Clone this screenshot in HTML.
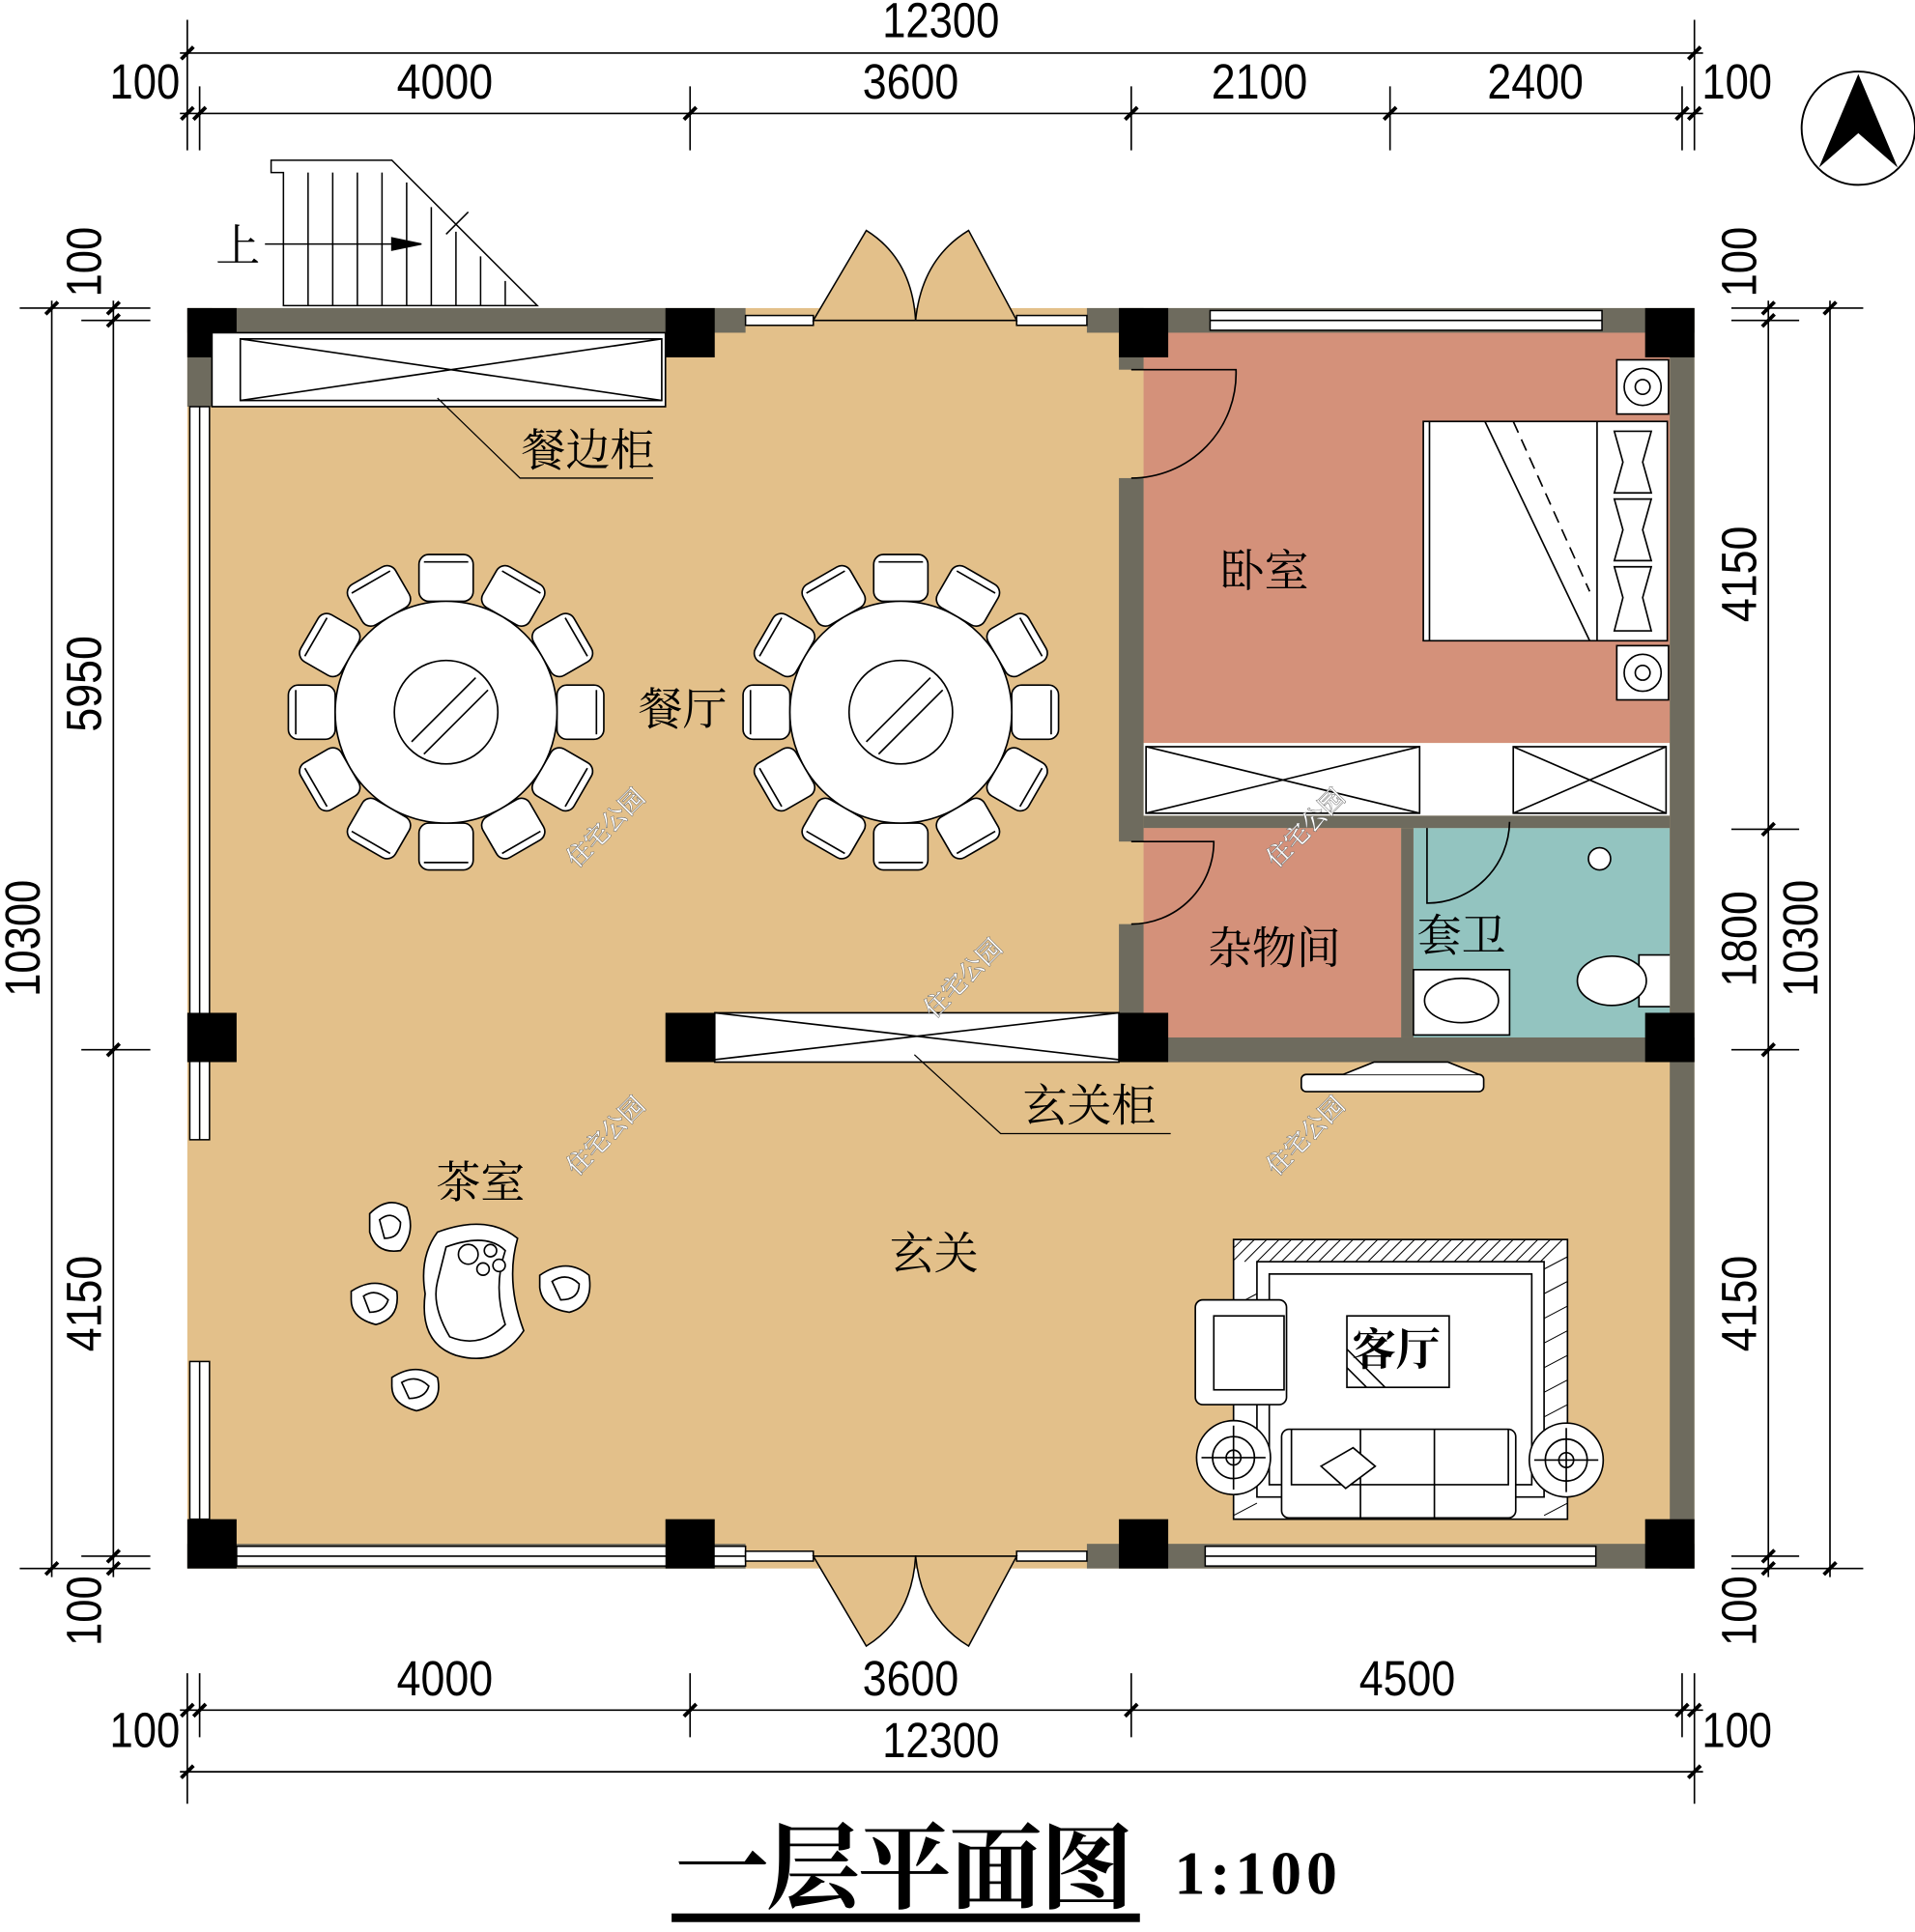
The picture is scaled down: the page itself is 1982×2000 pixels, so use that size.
<!DOCTYPE html>
<html><head><meta charset="utf-8"><style>
html,body{margin:0;padding:0;background:#fff;}
svg{display:block}
text{font-family:"Liberation Sans","Noto Serif CJK SC","Noto Sans CJK SC",sans-serif;}
.d{font-size:40px;fill:#000;font-family:"Liberation Sans",sans-serif;}
.c{font-family:"Noto Serif CJK SC","Noto Sans CJK SC",serif;font-size:36px;fill:#000;}
.w{font-family:"Noto Sans CJK SC",sans-serif;font-size:20px;fill:#fff;stroke:#666;stroke-width:0.8;paint-order:stroke}
</style></head><body>
<svg width="1982" height="2000" viewBox="0 0 1554 1568" xmlns="http://www.w3.org/2000/svg">
<rect width="1554" height="1568" fill="#fff"/>
<rect x="152" y="250" width="1223" height="1023" fill="#e3c08a"/>
<rect x="928" y="270" width="427" height="333" fill="#d4917a"/>
<rect x="928" y="672" width="209" height="170" fill="#d4917a"/>
<rect x="1147" y="672" width="208" height="170" fill="#93c4c0"/>
<rect x="928" y="603" width="427" height="59" fill="#fff"/>
<g fill="#6e6b5e">
<rect x="152" y="250" width="453" height="20"/>
<rect x="882" y="250" width="493" height="20"/>
<rect x="1355" y="250" width="20" height="1023"/>
<rect x="152" y="1253" width="453" height="20"/>
<rect x="882" y="1253" width="493" height="20"/>
<rect x="152" y="250" width="20" height="80"/>
<rect x="908" y="250" width="20" height="50"/>
<rect x="908" y="388" width="20" height="295"/>
<rect x="908" y="750" width="20" height="112"/>
<rect x="928" y="842" width="447" height="20"/>
<rect x="928" y="662" width="427" height="10"/>
<rect x="1137" y="672" width="10" height="170"/>
</g>
<g fill="#fff" stroke="#000" stroke-width="1.2">
<rect x="982" y="252" width="318" height="16"/>
<line x1="982" y1="260" x2="1300" y2="260"/>
<rect x="192" y="1255" width="413" height="16"/>
<line x1="192" y1="1263" x2="605" y2="1263"/>
<rect x="978" y="1255" width="317" height="16"/>
<line x1="978" y1="1263" x2="1295" y2="1263"/>
<rect x="154" y="330" width="16" height="595"/>
<line x1="162" y1="330" x2="162" y2="925"/>
<rect x="154" y="1105" width="16" height="128"/>
<line x1="162" y1="1105" x2="162" y2="1233"/>
<rect x="605" y="256" width="55" height="8"/>
<rect x="825" y="256" width="57" height="8"/>
<rect x="605" y="1259" width="55" height="8"/>
<rect x="825" y="1259" width="57" height="8"/>
</g>
<g fill="#e3c08a" stroke="#000" stroke-width="1.2">
<path d="M660 260 L703 187 Q740 210 743 260 Z"/>
<path d="M825 260 L786 187 Q748 210 743 260 Z"/>
<path d="M660 1263 L703 1336 Q740 1313 743 1263 Z"/>
<path d="M825 1263 L786 1336 Q748 1313 743 1263 Z"/>
</g>
<g fill="none" stroke="#000" stroke-width="1.3">
<path d="M918 300 L1003 300 A85 85 0 0 1 918 388"/>
<path d="M918 683 L985 683 A67 67 0 0 1 918 750"/>
<path d="M1158 672 L1158 733 A67 67 0 0 0 1225 667"/>
</g>
<g fill="#000">
<rect x="152" y="250" width="40" height="40"/><rect x="540" y="250" width="40" height="40"/>
<rect x="908" y="250" width="40" height="40"/><rect x="1335" y="250" width="40" height="40"/>
<rect x="152" y="822" width="40" height="40"/><rect x="540" y="822" width="40" height="40"/>
<rect x="908" y="822" width="40" height="40"/><rect x="1335" y="822" width="40" height="40"/>
<rect x="152" y="1233" width="40" height="40"/><rect x="540" y="1233" width="40" height="40"/>
<rect x="908" y="1233" width="40" height="40"/><rect x="1335" y="1233" width="40" height="40"/>
</g>
<g fill="#fff" stroke="#000" stroke-width="1.3">
<rect x="172" y="270" width="368" height="60"/>
<rect x="195" y="275" width="342" height="50"/>
<path d="M195 275 L537 325 M195 325 L537 275" fill="none"/>
<rect x="580" y="822" width="328" height="40"/>
<path d="M580 822 L908 860 M580 860 L908 822" fill="none"/>
<rect x="930" y="606" width="222" height="54"/>
<path d="M930 606 L1152 660 M930 660 L1152 606" fill="none"/>
<rect x="1228" y="606" width="124" height="54"/>
<path d="M1228 606 L1352 660 M1228 660 L1352 606" fill="none"/>
</g>
<g fill="none" stroke="#000" stroke-width="1">
<path d="M355 323 L422 388 L530 388"/>
<path d="M742 856 L812 920 L950 920"/>
</g>
<g fill="#fff" stroke="#000" stroke-width="1.2">
<path d="M220 130 L318 130 L436 248 L230 248 L230 140 L220 140 Z"/>
<path d="M250 140V248 M270 140V248 M290 140V248 M310 140V248 M330 148V248 M350 168V248 M370 188V248 M390 208V248 M410 228V248" fill="none"/>
<path d="M215 198 L340 198" fill="none"/>
<path d="M318 193 L342 198 L318 203 Z" fill="#000"/>
<path d="M362 190 L380 172" fill="none"/>
</g>
<text class="c" x="175" y="212" font-size="38">上</text>
<defs>
<g id="tbl">
<g fill="#fff" stroke="#000" stroke-width="1.3">
<g id="ch"><rect x="-22" y="-128" width="44" height="38" rx="8"/><path d="M-18 -122 H18" fill="none"/></g>
<use href="#ch" transform="rotate(30)"/><use href="#ch" transform="rotate(60)"/><use href="#ch" transform="rotate(90)"/>
<use href="#ch" transform="rotate(120)"/><use href="#ch" transform="rotate(150)"/><use href="#ch" transform="rotate(180)"/>
<use href="#ch" transform="rotate(210)"/><use href="#ch" transform="rotate(240)"/><use href="#ch" transform="rotate(270)"/>
<use href="#ch" transform="rotate(300)"/><use href="#ch" transform="rotate(330)"/>
<circle r="90"/>
<circle r="42"/>
<path d="M-28 24 L24 -28 M-18 34 L34 -18" fill="none"/>
</g></g>
</defs>
<use href="#tbl" x="362" y="578"/>
<use href="#tbl" x="731" y="578"/>
<g fill="#fff" stroke="#000" stroke-width="1.3">
<rect x="1155" y="342" width="198" height="178"/>
<line x1="1160" y1="342" x2="1160" y2="520"/>
<line x1="1296" y1="342" x2="1296" y2="520"/>
<path d="M1228 342 L1290 480" fill="none" stroke-dasharray="10 6"/>
<path d="M1205 342 L1290 520" fill="none"/>
<path d="M1310 350 L1340 350 L1333 375 L1340 400 L1310 400 L1317 375 Z"/>
<path d="M1310 405 L1340 405 L1333 430 L1340 455 L1310 455 L1317 430 Z"/>
<path d="M1310 460 L1340 460 L1333 485 L1340 512 L1310 512 L1317 485 Z"/>
<rect x="1312" y="292" width="42" height="44"/><circle cx="1333" cy="314" r="15"/><circle cx="1333" cy="314" r="6"/>
<rect x="1312" y="524" width="42" height="44"/><circle cx="1333" cy="546" r="15"/><circle cx="1333" cy="546" r="6"/>
</g>
<g fill="#fff" stroke="#000" stroke-width="1.3">
<rect x="1147" y="787" width="78" height="53"/>
<ellipse cx="1186" cy="812" rx="30" ry="18"/>
<circle cx="1298" cy="697" r="9"/>
<path d="M1355 775 L1330 775 L1330 817 L1355 817"/>
<ellipse cx="1308" cy="796" rx="28" ry="20"/>
</g>
<g fill="#fff" stroke="#000" stroke-width="1.3">
<path d="M355 1000 Q395 985 420 1005 Q410 1040 425 1080 Q405 1110 370 1100 Q340 1090 345 1050 Q340 1020 355 1000 Z"/>
<path d="M362 1012 Q395 1000 410 1015 Q400 1045 410 1075 Q390 1095 365 1085 Q350 1060 355 1040 Z" fill="none"/>
<circle cx="380" cy="1018" r="8"/><circle cx="398" cy="1015" r="5"/><circle cx="405" cy="1027" r="5"/><circle cx="392" cy="1030" r="5"/>
<path d="M300 985 Q315 970 330 980 Q338 1000 325 1015 Q305 1018 300 1000 Z"/>
<path d="M308 990 Q318 982 325 992 Q325 1005 312 1005 Z" fill="none"/>
<path d="M438 1035 Q460 1020 478 1035 Q482 1060 462 1065 Q440 1062 438 1045 Z"/>
<path d="M448 1040 Q460 1032 470 1042 Q470 1055 455 1055 Z" fill="none"/>
<path d="M285 1048 Q305 1035 322 1048 Q325 1070 305 1075 Q285 1070 285 1055 Z"/>
<path d="M295 1052 Q305 1045 315 1055 Q312 1065 300 1065 Z" fill="none"/>
<path d="M318 1118 Q338 1105 355 1118 Q360 1140 338 1145 Q318 1140 318 1125 Z"/>
<path d="M326 1122 Q338 1115 348 1125 Q345 1135 332 1135 Z" fill="none"/>
</g>
<g stroke="#000" stroke-width="1.3">
<rect x="1001" y="1006" width="271" height="227" fill="#fff"/>
<rect x="1020" y="1024" width="233" height="191" fill="#fff"/>
<rect x="1030" y="1034" width="213" height="171" fill="#fff"/>
<g fill="none" stroke-width="0.8">
<path d="M1008 1006 l-7 7 M1018 1006 l-17 17 M1028 1006 l-18 18 M1038 1006 l-18 18 M1048 1006 l-18 18 M1058 1006 l-18 18 M1068 1006 l-18 18 M1078 1006 l-18 18 M1088 1006 l-18 18 M1098 1006 l-18 18 M1108 1006 l-18 18 M1118 1006 l-18 18 M1128 1006 l-18 18 M1138 1006 l-18 18 M1148 1006 l-18 18 M1158 1006 l-18 18 M1168 1006 l-18 18 M1178 1006 l-18 18 M1188 1006 l-18 18 M1198 1006 l-18 18 M1208 1006 l-18 18 M1218 1006 l-18 18 M1228 1006 l-18 18 M1238 1006 l-18 18 M1248 1006 l-18 18 M1258 1006 l-18 18 M1268 1006 l-18 18"/>
<path d="M1253 1030 l19 -10 M1253 1050 l19 -10 M1253 1070 l19 -10 M1253 1090 l19 -10 M1253 1110 l19 -10 M1253 1130 l19 -10 M1253 1150 l19 -10 M1253 1170 l19 -10 M1253 1190 l19 -10 M1253 1210 l19 -10 M1253 1230 l19 -10"/>
<path d="M1001 1060 l19 -10 M1001 1230 l19 -10 M1001 1210 l19 -10"/>
</g>
<rect x="970" y="1055" width="74" height="85" rx="6" fill="#fff"/>
<rect x="985" y="1068" width="57" height="60" fill="#fff"/>
<rect x="1040" y="1160" width="190" height="72" rx="6" fill="#fff"/>
<path d="M1048 1160 V1205 H1224 V1160 M1104 1160 V1232 M1164 1160 V1232" fill="none"/>
<path d="M1072 1190 L1098 1175 L1116 1190 L1092 1208 Z" fill="#fff"/>
<circle cx="1001" cy="1183" r="30" fill="#fff"/><circle cx="1001" cy="1183" r="17" fill="none"/><circle cx="1001" cy="1183" r="6" fill="none"/>
<path d="M975 1183 H1027 M1001 1157 V1209" fill="none"/>
<circle cx="1271" cy="1185" r="30" fill="#fff"/><circle cx="1271" cy="1185" r="17" fill="none"/><circle cx="1271" cy="1185" r="6" fill="none"/>
<path d="M1245 1185 H1297 M1271 1159 V1211" fill="none"/>
<rect x="1093" y="1068" width="83" height="58" fill="#fff"/>
<path d="M1093 1110 l16 16 M1093 1095 l31 31" fill="none"/>
<rect x="1056" y="872" width="148" height="14" rx="4" fill="#fff"/>
<path d="M1090 872 L1115 862 L1175 862 L1200 872" fill="#fff"/>
</g>
<text class="c" x="423" y="378">餐边柜</text>
<text class="c" x="518" y="588">餐厅</text>
<text class="c" x="990" y="476" font-size="40">卧室</text>
<text class="c" x="980" y="782" font-size="40">杂物间</text>
<text class="c" x="1150" y="772" font-size="40">套卫</text>
<text class="c" x="830" y="910">玄关柜</text>
<text class="c" x="354" y="972">茶室</text>
<text class="c" x="722" y="1030">玄关</text>
<text class="c" x="1097" y="1108" font-size="44" font-weight="bold">客厅</text>
<g class="w">
<text transform="translate(468,705) rotate(-45)">住宅公园</text>
<text transform="translate(1036,705) rotate(-45)">住宅公园</text>
<text transform="translate(758,827) rotate(-45)">住宅公园</text>
<text transform="translate(468,955) rotate(-45)">住宅公园</text>
<text transform="translate(1036,955) rotate(-45)">住宅公园</text>
</g>
<g stroke="#000" stroke-width="1.3" fill="none">
<path d="M146 43 H1382 M146 92 H1382 M146 1388 H1382 M146 1438 H1382"/>
<path d="M152 16 V122 M1375 16 V122 M162 70 V122 M560 70 V122 M918 70 V122 M1128 70 V122 M1365 70 V122"/>
<path d="M152 1358 V1464 M1375 1358 V1464 M162 1358 V1410 M560 1358 V1410 M918 1358 V1410 M1365 1358 V1410"/>
<path d="M42 244 V1280 M92 244 V1280 M1435 244 V1280 M1485 244 V1280"/>
<path d="M16 250 H122 M16 1273 H122 M66 260 H122 M66 852 H122 M66 1263 H122"/>
<path d="M1405 250 H1512 M1405 1273 H1512 M1405 260 H1460 M1405 673 H1460 M1405 852 H1460 M1405 1263 H1460"/>
<g stroke-width="3">
<path d="M147 48 l10 -10 M1370 48 l10 -10 M147 97 l10 -10 M157 97 l10 -10 M555 97 l10 -10 M913 97 l10 -10 M1123 97 l10 -10 M1360 97 l10 -10 M1370 97 l10 -10"/>
<path d="M147 1393 l10 -10 M157 1393 l10 -10 M555 1393 l10 -10 M913 1393 l10 -10 M1360 1393 l10 -10 M1370 1393 l10 -10 M147 1443 l10 -10 M1370 1443 l10 -10"/>
<path d="M37 255 l10 -10 M37 1278 l10 -10 M87 255 l10 -10 M87 265 l10 -10 M87 857 l10 -10 M87 1268 l10 -10 M87 1278 l10 -10"/>
<path d="M1430 255 l10 -10 M1430 265 l10 -10 M1430 678 l10 -10 M1430 857 l10 -10 M1430 1268 l10 -10 M1430 1278 l10 -10 M1480 255 l10 -10 M1480 1278 l10 -10"/>
</g>
</g>
<g class="d" lengthAdjust="spacingAndGlyphs">
<text x="716" y="30" textLength="95" lengthAdjust="spacingAndGlyphs">12300</text>
<text x="89" y="80" textLength="57" lengthAdjust="spacingAndGlyphs">100</text>
<text x="322" y="80" textLength="78" lengthAdjust="spacingAndGlyphs">4000</text>
<text x="700" y="80" textLength="78" lengthAdjust="spacingAndGlyphs">3600</text>
<text x="983" y="80" textLength="78" lengthAdjust="spacingAndGlyphs">2100</text>
<text x="1207" y="80" textLength="78" lengthAdjust="spacingAndGlyphs">2400</text>
<text x="1381" y="80" textLength="57" lengthAdjust="spacingAndGlyphs">100</text>
<text x="322" y="1376" textLength="78" lengthAdjust="spacingAndGlyphs">4000</text>
<text x="700" y="1376" textLength="78" lengthAdjust="spacingAndGlyphs">3600</text>
<text x="1103" y="1376" textLength="78" lengthAdjust="spacingAndGlyphs">4500</text>
<text x="716" y="1426" textLength="95" lengthAdjust="spacingAndGlyphs">12300</text>
<text x="89" y="1418" textLength="57" lengthAdjust="spacingAndGlyphs">100</text>
<text x="1381" y="1418" textLength="57" lengthAdjust="spacingAndGlyphs">100</text>
<text transform="translate(82,213) rotate(-90)" x="-28" textLength="57" lengthAdjust="spacingAndGlyphs">100</text>
<text transform="translate(82,555) rotate(-90)" x="-39" textLength="78" lengthAdjust="spacingAndGlyphs">5950</text>
<text transform="translate(82,1058) rotate(-90)" x="-39" textLength="78" lengthAdjust="spacingAndGlyphs">4150</text>
<text transform="translate(82,1308) rotate(-90)" x="-28" textLength="57" lengthAdjust="spacingAndGlyphs">100</text>
<text transform="translate(32,762) rotate(-90)" x="-47" textLength="95" lengthAdjust="spacingAndGlyphs">10300</text>
<text transform="translate(1425,213) rotate(-90)" x="-28" textLength="57" lengthAdjust="spacingAndGlyphs">100</text>
<text transform="translate(1425,466) rotate(-90)" x="-39" textLength="78" lengthAdjust="spacingAndGlyphs">4150</text>
<text transform="translate(1425,762) rotate(-90)" x="-39" textLength="78" lengthAdjust="spacingAndGlyphs">1800</text>
<text transform="translate(1425,1058) rotate(-90)" x="-39" textLength="78" lengthAdjust="spacingAndGlyphs">4150</text>
<text transform="translate(1425,1308) rotate(-90)" x="-28" textLength="57" lengthAdjust="spacingAndGlyphs">100</text>
<text transform="translate(1475,762) rotate(-90)" x="-47" textLength="95" lengthAdjust="spacingAndGlyphs">10300</text>
</g>
<circle cx="1508" cy="104" r="46" fill="#fff" stroke="#000" stroke-width="1.5"/>
<path d="M1508 60 L1476 136 L1508 108 L1540 136 Z" fill="#000"/>
<text x="548" y="1543" font-size="76" font-weight="bold" textLength="372" style="font-family:'Noto Serif CJK SC',serif">一层平面图</text>
<rect x="545" y="1553" width="380" height="7" fill="#000"/>
<text x="953" y="1537" font-size="50" font-weight="bold" textLength="132" style="font-family:'Liberation Serif',serif">1:100</text>
</svg>
</body></html>
